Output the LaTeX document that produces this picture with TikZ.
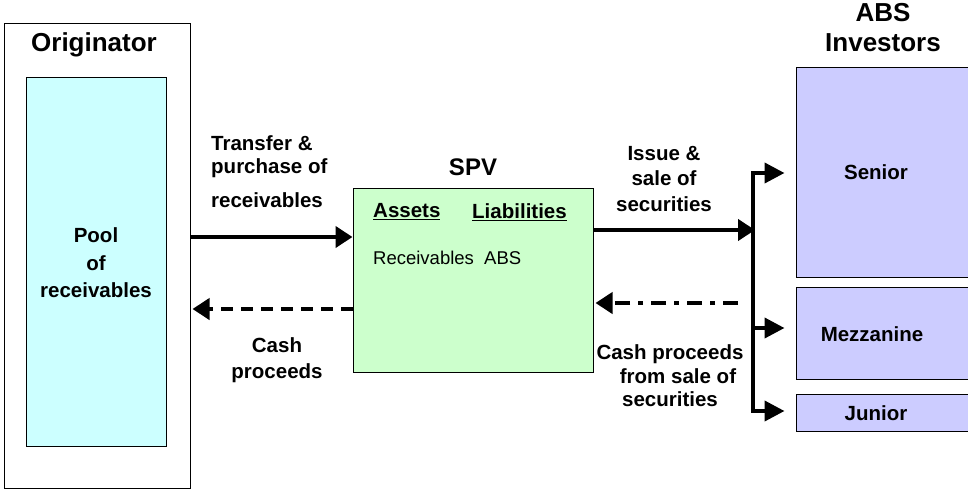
\documentclass[tikz,border=0pt]{standalone}
\usepackage{fontspec}
\setmainfont{Liberation Sans}
\usetikzlibrary{arrows.meta}
\definecolor{poolc}{HTML}{CCFFFF}
\definecolor{spvc}{HTML}{CCFFCC}
\definecolor{invc}{HTML}{CCCCFF}
\begin{document}
\begin{tikzpicture}[x=1pt,y=-1pt,
  box/.style={draw=black,line width=1pt,inner sep=0pt,anchor=center},
  title/.style={font=\fontsize{26}{30}\selectfont\bfseries,align=center,inner sep=0pt},
  lbl/.style={font=\fontsize{20.5}{25}\selectfont\bfseries,align=center,inner sep=0pt},
  arr/.style={line width=4pt,-{Triangle[length=17pt,width=21pt]}},
  barr/.style={line width=4pt,-{Triangle[length=20pt,width=20pt]}},
  flow/.style={line width=4pt},
  dsh/.style={arr,dash pattern=on 12pt off 8pt},
  dshdot/.style={arr,dash pattern=on 15pt off 8pt on 5pt off 8pt}]
\useasboundingbox (0,0) rectangle (968,490);
% boxes
\node[box,minimum width=186pt,minimum height=465pt] (orig) at (97,255.5) {};
\node[box,fill=poolc,minimum width=140pt,minimum height=369pt] (pool) at (96,261.5) {};
\node[box,fill=spvc,minimum width=240pt,minimum height=184pt] (spv) at (473,280) {};
\node[box,fill=invc,minimum width=176pt,minimum height=210pt] (senior) at (884,172) {};
\node[box,fill=invc,minimum width=176pt,minimum height=92pt] (mezz) at (884,333) {};
\node[box,fill=invc,minimum width=176pt,minimum height=37pt] (junior) at (884,412.5) {};
% titles
\node[title] (torig) at (94,45) {Originator};
\node[title] (tinv) at (883,28) {ABS\\Investors};
\node[lbl,font=\fontsize{24}{28}\selectfont\bfseries] (tspv) at (473,167) {SPV};
\node[lbl,font=\fontsize{20.5}{27.5}\selectfont\bfseries] (tpool) at (96,263) {Pool\\of\\receivables};
\node[lbl] (tsen) at (876,172) {Senior};
\node[lbl] (tmez) at (872,334) {Mezzanine};
\node[lbl] (tjun) at (876,413) {Junior};
\node[lbl,anchor=west] (tass) at (373,212) {\underline{Assets}};
\node[lbl,anchor=west] (tlia) at (472,212) {\underline{Liabilities}};
\node[font=\fontsize{18.5}{22}\selectfont,anchor=west,inner sep=0pt] (trec) at (373,258) {Receivables\ \ ABS};
% arrow labels
\node[lbl,anchor=west] (l1a) at (211,143) {Transfer \&};
\node[lbl,anchor=west] (l1b) at (211,168) {purchase of};
\node[lbl,anchor=west] (l1c) at (211,200) {receivables};
\node[lbl,font=\fontsize{20.5}{26}\selectfont\bfseries] (l2) at (277,360) {Cash\\proceeds};
\node[lbl,font=\fontsize{20.5}{25.5}\selectfont\bfseries] (l3) at (664,179) {Issue \&\\sale of\\securities};
\node[lbl,font=\fontsize{20.5}{23.5}\selectfont\bfseries] (l4) at (670,376) {Cash proceeds\\\hspace*{16pt}from sale of\\securities};
% coordinates
\coordinate (ya) at (0,237);
\coordinate (yb) at (0,309);
\coordinate (yc) at (0,230);
\coordinate (yd) at (0,303);
\coordinate (bartop) at (753,173);
\coordinate (barbot) at (753,411);
\coordinate (barmid) at (753,328);
\coordinate (dstart) at (738,303);
% connectors
\draw[arr] (orig.east |- ya) -- (spv.west |- ya);
\draw[dsh] (spv.west |- yb) -- ([xshift=2pt]orig.east |- yb);
\draw[arr] (spv.east |- yc) -- ([xshift=2pt]bartop |- yc);
\draw[flow,line cap=rect] (bartop) -- (barbot);
\draw[barr] ([xshift=-2pt]bartop) -- ([xshift=-11pt]senior.west |- bartop);
\draw[barr] ([xshift=-2pt]barmid) -- ([xshift=-11pt]mezz.west |- barmid);
\draw[barr] ([xshift=-2pt]barbot) -- ([xshift=-11pt]junior.west |- barbot);
\draw[dshdot] (dstart) -- ([xshift=2pt]spv.east |- yd);
\end{tikzpicture}
\end{document}
